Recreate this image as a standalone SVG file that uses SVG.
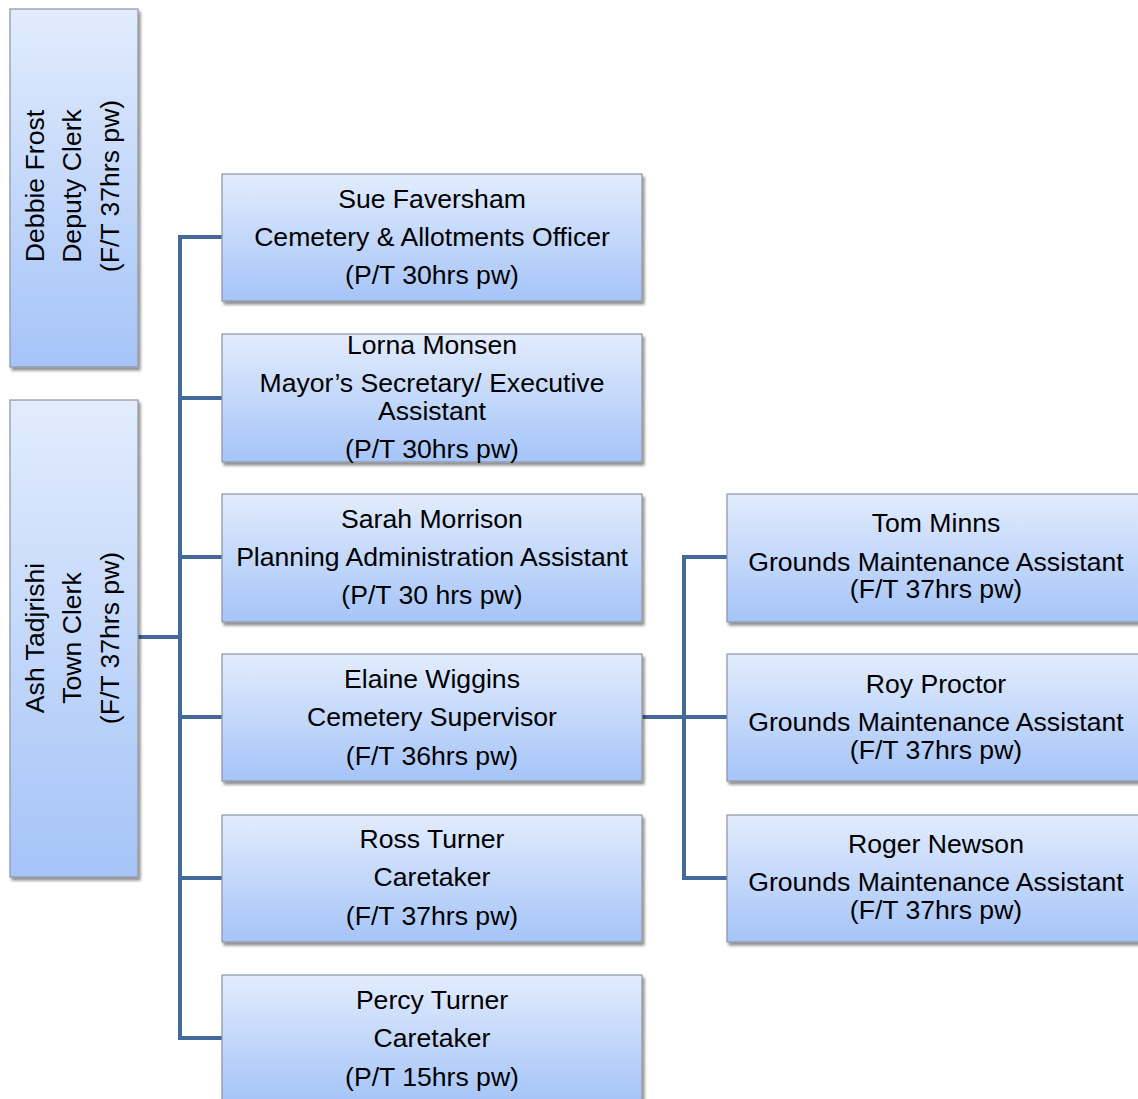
<svg xmlns="http://www.w3.org/2000/svg" width="1138" height="1099" viewBox="0 0 1138 1099">
<defs>
<linearGradient id="g" x1="0" y1="0" x2="0" y2="1">
<stop offset="0" stop-color="#e2ecfd"/>
<stop offset="1" stop-color="#a5c4f8"/>
</linearGradient>
<filter id="sh" x="-10%" y="-10%" width="130%" height="130%">
<feGaussianBlur in="SourceAlpha" stdDeviation="1.5"/>
<feOffset dx="2" dy="3" result="b"/>
<feComponentTransfer><feFuncA type="linear" slope="0.45"/></feComponentTransfer>
<feMerge><feMergeNode/><feMergeNode in="SourceGraphic"/></feMerge>
</filter>
</defs>
<style>
.box{fill:url(#g);stroke:#8e959e;stroke-width:1.2;filter:url(#sh)}
.t{font-family:"Liberation Sans",Arial,sans-serif;font-size:26.6px;fill:#000;text-anchor:middle}
.c{fill:none;stroke:#44699b;stroke-width:4;stroke-linejoin:miter}
</style>
<g id="connectors">
<path class="c" d="M138 637H180"/>
<path class="c" d="M222 237H180V1038H222"/>
<path class="c" d="M180 398H222M180 557H222M180 717H222M180 878H222"/>
<path class="c" d="M642 717H684"/>
<path class="c" d="M727 557H684V878H727M684 717H727"/>
</g>
<g id="debbie">
<rect class="box" x="10" y="9" width="128" height="358"/>
<text class="t" transform="translate(44,186) rotate(-90)">Debbie Frost</text>
<text class="t" transform="translate(81,186) rotate(-90)">Deputy Clerk</text>
<text class="t" transform="translate(119,186) rotate(-90)">(F/T 37hrs pw)</text>
</g>
<g id="ash">
<rect class="box" x="10" y="400" width="128" height="477"/>
<text class="t" transform="translate(44,638) rotate(-90)">Ash Tadjrishi</text>
<text class="t" transform="translate(81,638) rotate(-90)">Town Clerk</text>
<text class="t" transform="translate(119,638) rotate(-90)">(F/T 37hrs pw)</text>
</g>
<g id="sue">
<rect class="box" x="222" y="174" width="420" height="127"/>
<text class="t" x="432" y="208">Sue Faversham</text>
<text class="t" x="432" y="246">Cemetery &amp; Allotments Officer</text>
<text class="t" x="432" y="284">(P/T 30hrs pw)</text>
</g>
<g id="lorna">
<rect class="box" x="222" y="334" width="420" height="128"/>
<text class="t" x="432" y="354">Lorna Monsen</text>
<text class="t" x="432" y="392">Mayor’s Secretary/ Executive</text>
<text class="t" x="432" y="420">Assistant</text>
<text class="t" x="432" y="458">(P/T 30hrs pw)</text>
</g>
<g id="sarah">
<rect class="box" x="222" y="494" width="420" height="128"/>
<text class="t" x="432" y="528">Sarah Morrison</text>
<text class="t" x="432" y="566">Planning Administration Assistant</text>
<text class="t" x="432" y="604">(P/T 30 hrs pw)</text>
</g>
<g id="elaine">
<rect class="box" x="222" y="654" width="420" height="127"/>
<text class="t" x="432" y="688">Elaine Wiggins</text>
<text class="t" x="432" y="726">Cemetery Supervisor</text>
<text class="t" x="432" y="765">(F/T 36hrs pw)</text>
</g>
<g id="ross">
<rect class="box" x="222" y="815" width="420" height="127"/>
<text class="t" x="432" y="848">Ross Turner</text>
<text class="t" x="432" y="886">Caretaker</text>
<text class="t" x="432" y="925">(F/T 37hrs pw)</text>
</g>
<g id="percy">
<rect class="box" x="222" y="975" width="420" height="128"/>
<text class="t" x="432" y="1009">Percy Turner</text>
<text class="t" x="432" y="1047">Caretaker</text>
<text class="t" x="432" y="1086">(P/T 15hrs pw)</text>
</g>
<g id="tom">
<rect class="box" x="727" y="494" width="420" height="128"/>
<text class="t" x="936" y="532">Tom Minns</text>
<text class="t" x="936" y="571">Grounds Maintenance Assistant</text>
<text class="t" x="936" y="598">(F/T 37hrs pw)</text>
</g>
<g id="roy">
<rect class="box" x="727" y="654" width="420" height="127"/>
<text class="t" x="936" y="693">Roy Proctor</text>
<text class="t" x="936" y="731">Grounds Maintenance Assistant</text>
<text class="t" x="936" y="759">(F/T 37hrs pw)</text>
</g>
<g id="roger">
<rect class="box" x="727" y="815" width="420" height="127"/>
<text class="t" x="936" y="853">Roger Newson</text>
<text class="t" x="936" y="891">Grounds Maintenance Assistant</text>
<text class="t" x="936" y="919">(F/T 37hrs pw)</text>
</g>
</svg>
